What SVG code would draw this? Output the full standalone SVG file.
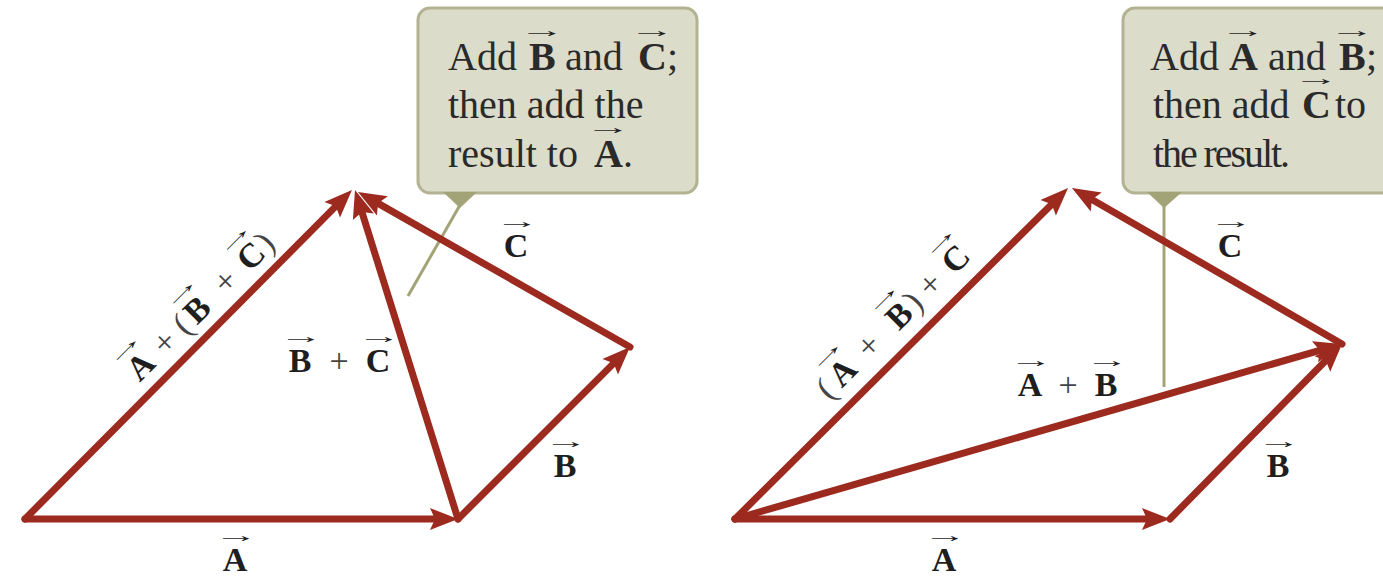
<svg xmlns="http://www.w3.org/2000/svg" width="1383" height="577" viewBox="0 0 1383 577">
<style>
.v{stroke:#9c2a1f;stroke-width:7;fill:none;stroke-linecap:round;marker-end:url(#ah)}
.lbl{font-family:"Liberation Serif",serif;font-weight:bold;font-size:34px;fill:#1e1e1e;text-anchor:middle}
.op{font-weight:normal;fill:#444}
.ar{font-family:"Liberation Serif","DejaVu Serif",serif;font-size:20px;fill:#1e1e1e;text-anchor:middle;font-weight:normal}
.box{fill:#dcdccb;stroke:#b3b393;stroke-width:3}
.ptr{fill:#a3a378}
.lead{stroke:#a3a378;stroke-width:3;fill:none}
.ct{font-family:"Liberation Serif",serif;font-size:40px;fill:#2a2a2a}
.cb{font-weight:bold}
</style>
<defs>
<marker id="ah" markerUnits="userSpaceOnUse" viewBox="-20 -15 40 30" markerWidth="40" markerHeight="30" refX="0" refY="0" orient="auto" overflow="visible">
<path d="M14,0 L-14,-11 L-9,0 L-14,11 Z" fill="#9c2a1f"/>
</marker>
</defs>
<rect width="1383" height="577" fill="#ffffff"/>

<g id="callout-left">
<rect class="box" x="418" y="8" width="279" height="185" rx="12"/>
<polygon class="ptr" points="443,192 477,192 460,208"/>
<line class="lead" x1="460" y1="205" x2="408" y2="296"/>
<text class="ct" x="448" y="70">Add</text>
<text class="ct cb" x="529" y="70">B</text>
<text class="ct" x="565" y="70">and</text>
<text class="ct cb" x="638" y="70">C</text>
<text class="ct" x="667" y="70">;</text>
<text class="ar" transform="translate(542,37) scale(2.3,1)">→</text>
<text class="ar" transform="translate(652,37) scale(2.3,1)">→</text>
<text class="ct" x="448" y="118">then add the</text>
<text class="ct" x="448" y="167">result to</text>
<text class="ct cb" x="594" y="167">A</text>
<text class="ct" x="623" y="167">.</text>
<text class="ar" transform="translate(608,134) scale(2.3,1)">→</text>
</g>

<g id="callout-right">
<rect class="box" x="1123" y="8" width="290" height="185" rx="12"/>
<polygon class="ptr" points="1147,192 1182,192 1164,208"/>
<line class="lead" x1="1164" y1="205" x2="1164" y2="387"/>
<text class="ct" x="1150" y="70">Add</text>
<text class="ct cb" x="1229" y="70">A</text>
<text class="ct" x="1268" y="70">and</text>
<text class="ct cb" x="1339" y="70">B</text>
<text class="ct" x="1366" y="70">;</text>
<text class="ar" transform="translate(1243,37) scale(2.3,1)">→</text>
<text class="ar" transform="translate(1352,37) scale(2.3,1)">→</text>
<text class="ct" x="1153" y="118">then add</text>
<text class="ct cb" x="1302" y="118">C</text>
<text class="ct" x="1335" y="118">to</text>
<text class="ar" transform="translate(1316,85) scale(2.3,1)">→</text>
<text class="ct" x="1153" y="167" textLength="137" lengthAdjust="spacing">the result.</text>
</g>

<g id="connectors">
<line class="v" x1="25" y1="519" x2="444" y2="519"/>
<line class="v" x1="458" y1="519" x2="620.1" y2="356.9"/>
<line class="v" x1="630" y1="347" x2="370.2" y2="198.9"/>
<line class="v" x1="458" y1="519" x2="359.2" y2="203.4"/>
<line class="v" x1="25" y1="519" x2="342.1" y2="199.9"/>
<line class="v" x1="735" y1="519" x2="1156" y2="519"/>
<line class="v" x1="1170" y1="519" x2="1332.2" y2="354"/>
<line class="v" x1="1342" y1="344" x2="1084.1" y2="195"/>
<line class="v" x1="735" y1="519" x2="1328.5" y2="347.9"/>
<line class="v" x1="735" y1="519" x2="1058.1" y2="197.9"/>
</g>

<g id="label-left-A">
<text class="lbl" x="235" y="571">A</text><text class="ar" transform="translate(236,542) scale(2.2,1)">→</text>
</g>
<g id="label-left-B">
<text class="lbl" x="565" y="477">B</text><text class="ar" transform="translate(566,448) scale(2.2,1)">→</text>
</g>
<g id="label-left-C">
<text class="lbl" x="516" y="257">C</text><text class="ar" transform="translate(517,228) scale(2.2,1)">→</text>
</g>
<g id="label-left-BC">
<text class="lbl" x="300" y="372">B</text>
<text class="lbl op" x="339" y="372">+</text>
<text class="lbl" x="378" y="372">C</text>
<text class="ar" transform="translate(301,343) scale(2.2,1)">→</text>
<text class="ar" transform="translate(379,343) scale(2.2,1)">→</text>
</g>
<g id="label-left-sum" transform="translate(200,307) rotate(-45)">
<text class="lbl" x="-84" y="11">A</text>
<text class="lbl op" x="-50" y="11">+</text>
<text class="lbl op" x="-25" y="11">(</text>
<text class="lbl" x="-4" y="11">B</text>
<text class="lbl op" x="36" y="11">+</text>
<text class="lbl" x="72" y="11">C</text>
<text class="lbl op" x="92" y="11">)</text>
<text class="ar" transform="translate(-83,-18) scale(2.2,1)">→</text>
<text class="ar" transform="translate(-3,-18) scale(2.2,1)">→</text>
<text class="ar" transform="translate(73,-18) scale(2.2,1)">→</text>
</g>

<g id="label-right-A">
<text class="lbl" x="944" y="571">A</text><text class="ar" transform="translate(945,542) scale(2.2,1)">→</text>
</g>
<g id="label-right-B">
<text class="lbl" x="1278" y="477">B</text><text class="ar" transform="translate(1279,448) scale(2.2,1)">→</text>
</g>
<g id="label-right-C">
<text class="lbl" x="1230" y="257">C</text><text class="ar" transform="translate(1231,228) scale(2.2,1)">→</text>
</g>
<g id="label-right-AB">
<text class="lbl" x="1030" y="396">A</text>
<text class="lbl op" x="1068" y="396">+</text>
<text class="lbl" x="1106" y="396">B</text>
<text class="ar" transform="translate(1031,367) scale(2.2,1)">→</text>
<text class="ar" transform="translate(1107,367) scale(2.2,1)">→</text>
</g>
<g id="label-right-sum" transform="translate(890,322) rotate(-45)">
<text class="lbl op" x="-93" y="13">(</text>
<text class="lbl" x="-69" y="13">A</text>
<text class="lbl op" x="-32" y="13">+</text>
<text class="lbl" x="11" y="13">B</text>
<text class="lbl op" x="31" y="13">)</text>
<text class="lbl op" x="55" y="13">+</text>
<text class="lbl" x="91" y="13">C</text>
<text class="ar" transform="translate(-68,-16) scale(2.2,1)">→</text>
<text class="ar" transform="translate(12,-16) scale(2.2,1)">→</text>
<text class="ar" transform="translate(92,-16) scale(2.2,1)">→</text>
</g>
</svg>
